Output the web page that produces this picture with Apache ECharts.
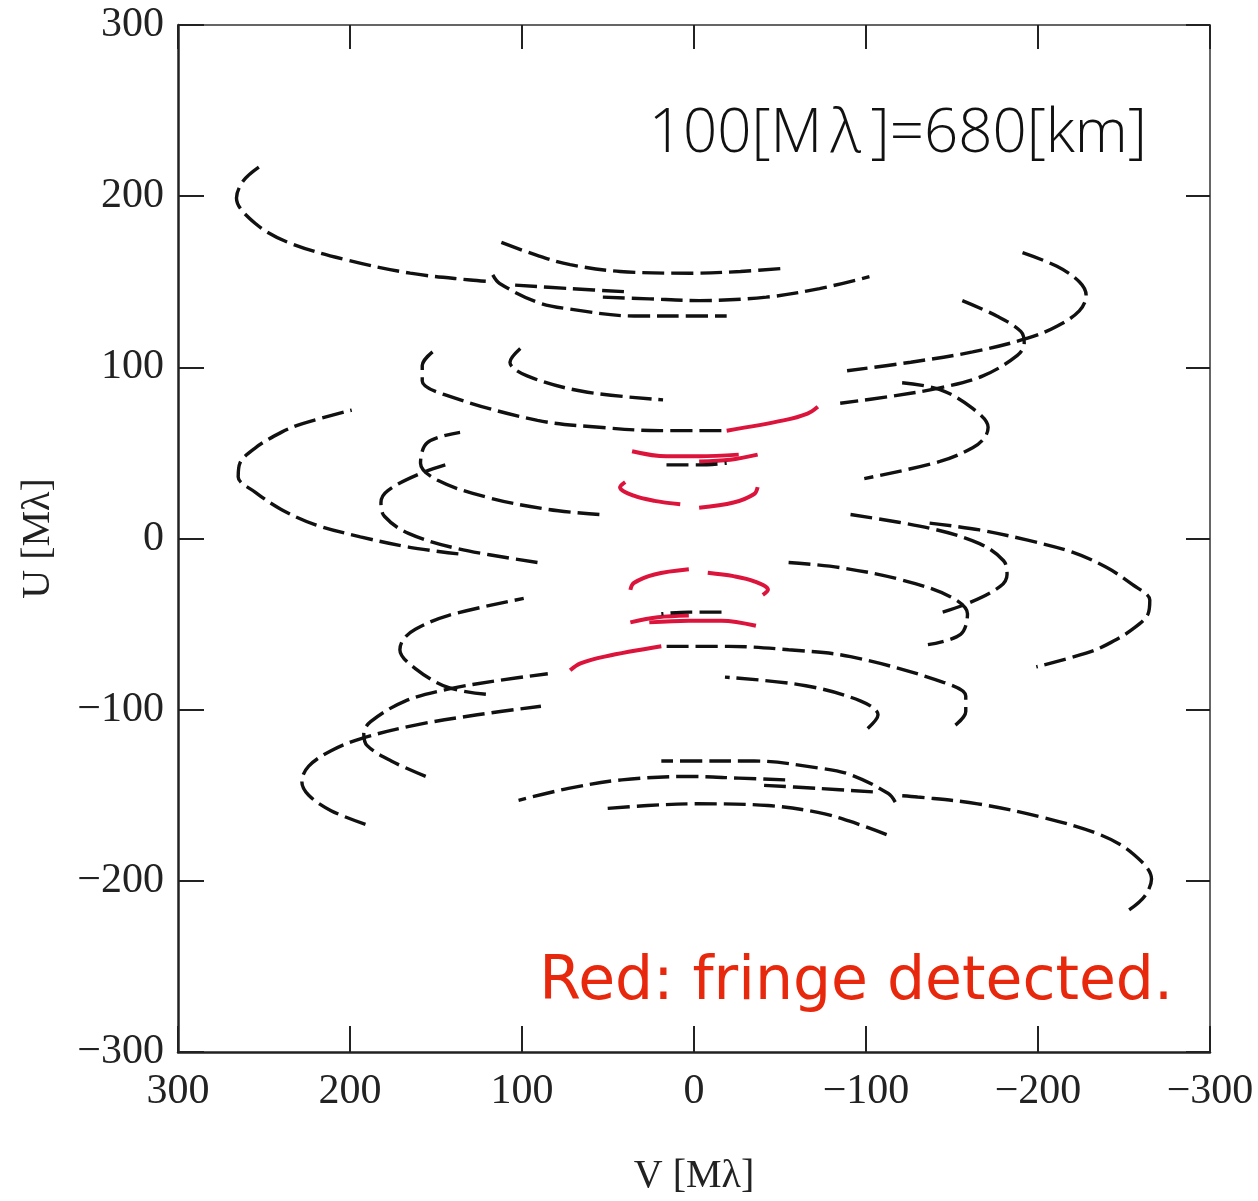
<!DOCTYPE html>
<html>
<head>
<meta charset="utf-8">
<title>uv coverage</title>
<script src="https://cdn.jsdelivr.net/npm/echarts@6/dist/echarts.min.js"></script>
<style>
  html, body { margin: 0; padding: 0; background: #fff; }
  #chart { width: 1258px; height: 1201px; }
</style>
</head>
<body>
<div id="chart"></div>
<script>
// uv tracks, points are [V, U] in Mλ. Each track is drawn together with its
// conjugate baseline (-V, -U).
const trackA = [[253,217],[262,209],[266,199],[255,184],[236,173],[203,163],[165,155],[130,151],[117,150]];
const trackB = [[112,173],[90,165],[72,160],[43,156],[2,155],[-27,156],[-54,158]];
const trackC = [[117,154],[113,149],[91,138],[72,134],[35,130],[2,130],[-19,130]];
const trackD = [[53,141],[26,140],[-3,139],[-42,141],[-73,146],[-102,153]];
const trackE = [[104,148],[72,146],[37,144]];
const trackF = [[-191,167],[-211,159],[-224,150],[-228,142],[-224,133],[-211,124],[-194,117],[-162,109],[-126,103],[-89,98]];
const trackG = [[-156,139],[-176,130],[-190,121],[-192,114],[-188,107],[-168,95],[-143,88],[-114,83],[-85,79]];
const trackH = [[-121,91],[-143,87],[-162,76],[-171,65],[-169,59],[-162,53],[-143,45],[-99,35]];
const trackI = [[-91,14],[-137,6],[-166,-3],[-180,-13],[-182,-21],[-178,-28],[-159,-38],[-141,-44]];
const trackJ = [[-137,9],[-166,5],[-194,-1],[-220,-8],[-240,-17],[-255,-27],[-265,-36],[-264,-44],[-255,-53],[-240,-62],[-228,-67],[-199,-75]];
const trackK = [[-55,-14],[-85,-17],[-120,-24],[-149,-34],[-159,-44],[-155,-56],[-136,-62]];
const trackO = [[101,111],[107,103],[97,95],[65,86],[18,81]];
const trackP = [[152,109],[158,101],[158,92],[145,84],[91,69],[55,65],[20,63],[-19,63]];
const trackQ = [[16,43],[-3,43],[-19,44]];

// segments where fringes were detected
const fringeP = [[-19,63],[-52,69],[-66,73],[-72,77]];
const fringe1 = [[36,51],[16,48],[-3,48],[-26,49]];
const fringe2 = [[-3,45],[-21,46],[-37,49]];
const fringe3 = [[40,33],[43,30],[35,25],[23,22],[8,20]];
const fringe4 = [[-3,18],[-23,21],[-35,26],[-37,30]];

const blackTracks = [trackA, trackB, trackC, trackD, trackE, trackF, trackG, trackH, trackI, trackJ, trackK, trackO, trackP];
const redTracks = [fringeP, fringe1, fringe2, fringe3, fringe4];
const overTracks = [trackQ];

const axisTicks = [-300, -200, -100, 0, 100, 200, 300];

const conjugate = pts => pts.map(([v, u]) => [-v, -u]);
const minus = v => String(v).replace('-', '\u2212');

function trackSeries(pts, color, width, dash) {
  return {
    type: 'line',
    data: pts,
    smooth: 0.35,
    showSymbol: false,
    symbol: 'none',
    silent: true,
    lineStyle: { color: color, width: width, type: dash }
  };
}

const DASH = [22, 7];
const series = [];
blackTracks.forEach(t => {
  series.push(trackSeries(t, '#111', 3.4, DASH));
  series.push(trackSeries(conjugate(t), '#111', 3.4, DASH));
});
redTracks.forEach(t => {
  series.push(trackSeries(t, '#dc143c', 4, 'solid'));
  series.push(trackSeries(conjugate(t), '#dc143c', 4, 'solid'));
});
overTracks.forEach(t => {
  series.push(trackSeries(t, '#111', 3.4, DASH));
  series.push(trackSeries(conjugate(t), '#111', 3.4, DASH));
});

const serif = 'Liberation Serif';
const labelStyle = { fontFamily: serif, fontSize: 42, color: '#222', formatter: minus };

const frameAxis = (pos, inverse) => ({
  type: 'value', min: -300, max: 300, interval: 100, inverse: inverse, position: pos,
  axisLine: { show: true, onZero: false, lineStyle: { color: '#333', width: 1.5 } },
  axisTick: { show: true, inside: true, length: 24, lineStyle: { color: '#222', width: 2 } },
  axisLabel: { show: false },
  splitLine: { show: false }
});

const chart = echarts.init(document.getElementById('chart'), null, { renderer: 'canvas' });
chart.setOption({
  backgroundColor: '#fff',
  animation: false,
  grid: { left: 178, right: 48, top: 25, bottom: 144, containLabel: false },
  xAxis: [
    {
      type: 'value', min: axisTicks[0], max: axisTicks[axisTicks.length - 1], interval: 100,
      inverse: true, position: 'bottom',
      name: 'V [Mλ]', nameLocation: 'middle', nameGap: 104,
      nameTextStyle: { fontFamily: serif, fontSize: 40, color: '#222' },
      axisLine: { show: true, onZero: false, lineStyle: { color: '#222', width: 2.5 } },
      axisTick: { show: true, inside: true, length: 26, lineStyle: { color: '#222', width: 2 } },
      axisLabel: Object.assign({ margin: 19 }, labelStyle),
      splitLine: { show: false }
    },
    frameAxis('top', true)
  ],
  yAxis: [
    {
      type: 'value', min: axisTicks[0], max: axisTicks[axisTicks.length - 1], interval: 100,
      position: 'left',
      name: 'U [Mλ]', nameLocation: 'middle', nameGap: 120, nameRotate: 90,
      nameTextStyle: { fontFamily: serif, fontSize: 40, color: '#222' },
      axisLine: { show: true, onZero: false, lineStyle: { color: '#222', width: 2.5 } },
      axisTick: { show: true, inside: true, length: 26, lineStyle: { color: '#222', width: 2 } },
      axisLabel: Object.assign({ margin: 14 }, labelStyle),
      splitLine: { show: false }
    },
    frameAxis('right', false)
  ],
  graphic: [
    {
      type: 'text', x: 1147, y: 135, silent: true,
      style: {
        text: '{a|100[M}{l|λ}{a|]=680[km]}', align: 'right', verticalAlign: 'middle',
        rich: {
          a: { fontFamily: 'Open Sans', fontWeight: 300, fontSize: 60, fill: '#111' },
          l: { fontFamily: 'Open Sans', fontWeight: 300, fontSize: 60, fill: '#111', padding: [0, 10, 0, 8] }
        }
      }
    },
    {
      type: 'text', x: 1173, y: 983, silent: true,
      style: {
        text: 'Red: fringe detected.', align: 'right', verticalAlign: 'middle',
        fontFamily: 'DejaVu Sans', fontSize: 60, fill: '#e8280c'
      }
    }
  ],
  series: series
});
</script>
</body>
</html>
